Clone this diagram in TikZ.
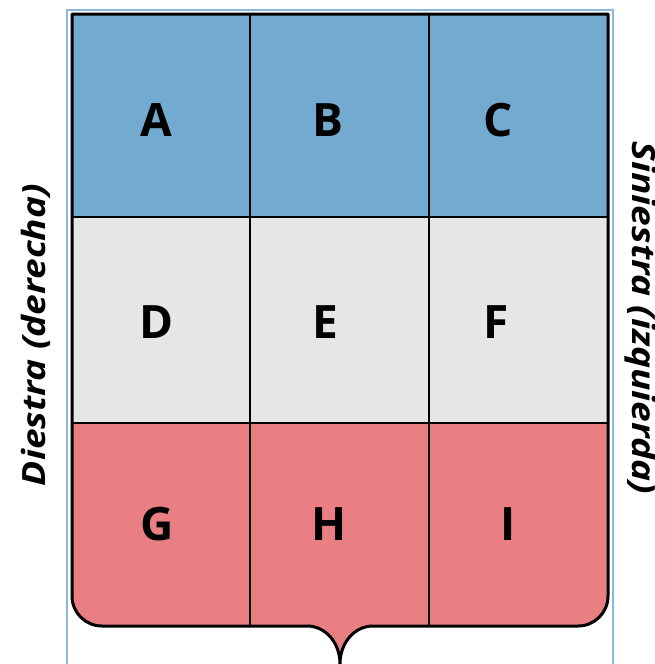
\documentclass[tikz,border=0pt]{standalone}
\usepackage{fontspec}
\setmainfont{Open Sans}
\definecolor{topblue}{RGB}{114,170,208}
\definecolor{midgrey}{RGB}{230,230,230}
\definecolor{lowpink}{RGB}{233,127,131}
\definecolor{framebl}{RGB}{140,184,220}
\tikzset{
  letter/.style={font=\fontsize{46}{46}\selectfont\bfseries, inner sep=0pt},
  sidetext/.style={font=\fontsize{32}{32}\selectfont\bfseries\itshape, inner sep=0pt},
  divider/.style={draw=black, line width=1.8pt},
  shieldline/.style={draw=black, line width=3pt, line join=round}
}
\begin{document}
\begin{tikzpicture}[x=1pt,y=-1pt]
\useasboundingbox (0,0) rectangle (655,664);
\clip (0,0) rectangle (655,664);
% frame
\draw[framebl, line width=2pt] (66.5,680) -- (66.5,10) -- (612.5,10) -- (612.5,680);
% shield shape
\def\shieldpath{(72,14) -- (608,14) -- (608,596)
  .. controls (608,612.6) and (594.6,626) .. (578,626)
  -- (373,626) .. controls (355,626) and (340,642) .. (340,664)
  .. controls (340,642) and (325,626) .. (307,626)
  -- (102,626) .. controls (85.4,626) and (72,612.6) .. (72,596) -- cycle}
\begin{scope}
  \clip \shieldpath;
  \fill[topblue] (60,0) rectangle (620,217);
  \fill[midgrey] (60,217) rectangle (620,423);
  \fill[lowpink] (60,423) rectangle (620,680);
  \draw[divider] (250,0) -- (250,680);
  \draw[divider] (429,0) -- (429,680);
  \draw[divider] (60,217) -- (620,217);
  \draw[divider] (60,423) -- (620,423);
\end{scope}
\draw[shieldline] \shieldpath;
% letters
\node[letter] (A) at (156,120) {A};
\node[letter] (B) at (328,120) {B};
\node[letter] (C) at (498,120) {C};
\node[letter] (D) at (157,322) {D};
\node[letter] (E) at (325,322) {E};
\node[letter] (F) at (496,322) {F};
\node[letter] (G) at (157,524) {G};
\node[letter] (H) at (329,524) {H};
\node[letter] (I) at (508,524) {I};
% side texts
\node[sidetext, rotate=90, anchor=base] (diestra) at (45,335) {\scalebox{1.16}[1]{Diestra (derecha)}};
\node[sidetext, rotate=-90, anchor=base] (siniestra) at (632,318) {\scalebox{1.16}[1]{Siniestra (izquierda)}};
\end{tikzpicture}
\end{document}
